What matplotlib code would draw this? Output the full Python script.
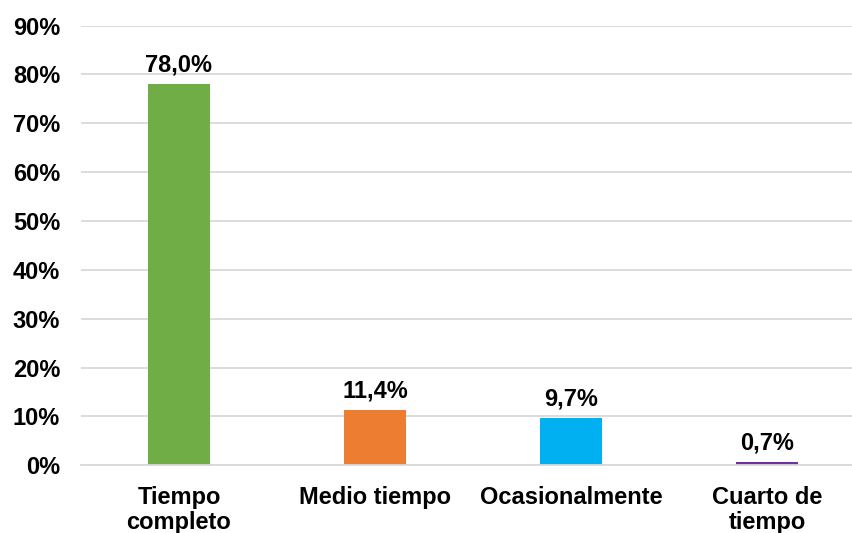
import matplotlib
matplotlib.use("Agg")
import matplotlib.pyplot as plt

categories = ["Tiempo\ncompleto", "Medio tiempo", "Ocasionalmente", "Cuarto de\ntiempo"]
values = [78.0, 11.4, 9.7, 0.7]
colors = ["#70AD47", "#ED7D31", "#00B0F0", "#7030A0"]
yticks = [0, 10, 20, 30, 40, 50, 60, 70, 80, 90]

plt.rcParams["font.family"] = ["Liberation Sans", "DejaVu Sans"]
plt.rcParams["font.weight"] = "bold"

fig = plt.figure(figsize=(8.52, 5.33), dpi=100)
ax = fig.add_axes([0.095, 0.127, 0.905, 0.825])

x = range(len(categories))
bars = ax.bar(x, values, width=0.32, color=colors, zorder=3)

for xi, v in zip(x, values):
    ax.text(xi, v + 1.5, f"{v:.1f}%".replace(".", ","), ha="center", va="bottom",
            fontsize=17, fontweight="bold")

ax.set_xlim(-0.5, 3.434)
ax.set_ylim(0, 90)
ax.set_yticks(yticks)
ax.set_yticklabels([f"{t}%" for t in yticks], fontsize=17, fontweight="bold")
ax.set_xticks(list(x))
ax.set_xticklabels(categories, fontsize=17, fontweight="bold", linespacing=1.1)
ax.tick_params(axis="both", length=0)
ax.tick_params(axis="y", pad=15)
ax.tick_params(axis="x", pad=15)

ax.grid(axis="y", color="#d9d9d9", linewidth=1.3, zorder=0)
for s in ["top", "right", "left"]:
    ax.spines[s].set_visible(False)
ax.spines["bottom"].set_color("#d9d9d9")
ax.spines["bottom"].set_linewidth(1.3)
ax.spines["bottom"].set_zorder(4)

fig.savefig("out.png", dpi=100)
